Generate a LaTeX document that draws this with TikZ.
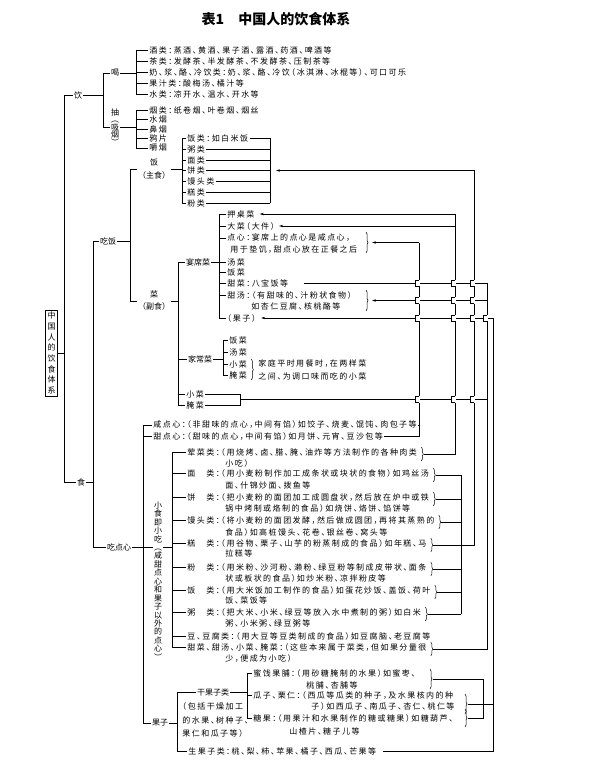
\documentclass[tikz,border=0pt]{standalone}
\usepackage{fontspec}
\newfontfamily\cjk[LetterSpace=18,RawFeature=+halt]{Noto Sans CJK SC}
\newfontfamily\cjkp{Noto Sans CJK SC}
\usetikzlibrary{calc,arrows.meta,decorations.pathreplacing}

\tikzset{
  txt/.style={anchor=west, inner sep=1.2pt, font=\cjk\fontsize{8}{9}\selectfont},
  lbl/.style={inner sep=1.2pt, font=\cjkp\fontsize{8}{9}\selectfont},
  vlbl/.style={align=center, inner sep=1pt, font=\cjkp\fontsize{8}{8.44}\selectfont},
  arr/.style={-{Stealth[length=4pt,width=2.4pt]}},
  brc/.style={decorate, decoration={brace, amplitude=2pt}},
}

% a horizontal line passing a vertical one
\newcommand\hop[1]{%
  \fill[white] ($#1+(-4.3,-3.3)$) rectangle ($#1+(0.6,3.3)$);
  \draw ($#1+(0,-3)$) -- ++(-4,0) -- ++(0,6) -- ++(4,0);}
% brace behind a text line, tip kept as a coordinate
\newcommand\brc[3]{%
  \draw[brc] ($(#1.east)+(3,-5)$) -- ($(#1.east)+(3,#2)$);
  \coordinate (#3) at ($(#1.east)+(5.5,{(#2-5)/2})$);}

\begin{document}
\begin{tikzpicture}[x=1pt, y=-1pt, line width=0.5pt]
\useasboundingbox (0,0) rectangle (598,778);

% columns
\coordinate (k0) at (64,0);
\coordinate (k1) at (93,0);
\coordinate (k2) at (103,0);
\coordinate (k3) at (130,0);
\coordinate (k4) at (136,0);
\coordinate (k5) at (143,0);
\coordinate (k6) at (172,0);
\coordinate (k7) at (177,0);
\coordinate (k8) at (178,0);
\coordinate (k9) at (182,0);
\coordinate (k10) at (219,0);
\coordinate (k11) at (223,0);
\coordinate (k12) at (240,0);
\coordinate (k13) at (247,0);
\coordinate (k14) at (270,0);
\coordinate (r1) at (419,0);
\coordinate (r2) at (455,0);
\coordinate (r3b) at (461,0);
\coordinate (r3) at (474,0);
\coordinate (r5b) at (483,0);
\coordinate (r4) at (487,0);
\coordinate (r5) at (493,0);

% title
\node[font=\cjkp\bfseries\fontsize{14}{16}\selectfont] (title) at (276,19) {表1\quad 中国人的饮食体系};

% root
\node[vlbl, draw, font=\cjkp\fontsize{8}{10.7}\selectfont, inner xsep=2.2pt, inner ysep=2pt] (root) at (51.5,353) {中\\国\\人\\的\\饮\\食\\体\\系};
\node[lbl] (yin) at (78,95) {饮};
\node[lbl] (shi) at (81,482) {食};

% drink
\node[lbl] (he) at (115,73) {喝};
\node[vlbl, font=\cjkp\fontsize{8}{7.5}\selectfont] (chou) at (115,127) {抽\\︵\\吸\\烟\\︶};
\node[txt] (jiu) at (148,50) {酒类：蒸酒、黄酒、果子酒、露酒、药酒、啤酒等};
\node[txt] (cha) at (148,61) {茶类：发酵茶、半发酵茶、不发酵茶、压制茶等};
\node[txt] (nai) at (148,72) {奶、浆、酪、冷饮类：奶、浆、酪、冷饮（冰淇淋、冰棍等）、可口可乐};
\node[txt] (guozhi) at (148,83) {果汁类：酸梅汤、橘汁等};
\node[txt] (shui) at (148,94) {水类：凉开水、温水、开水等};
\node[txt] (yan) at (148,110) {烟类：纸卷烟、叶卷烟、烟丝};
\node[txt] (shuiyan) at (148,119.5) {水烟};
\node[txt] (biyan) at (148,129) {鼻烟};
\node[txt] (yapian) at (148,138.5) {鸦片};
\node[txt] (jiaoyan) at (148,148) {嚼烟};

% staple food
\node[lbl] (chifan) at (108,241) {吃饭};
\node[lbl, align=center, font=\cjkp\fontsize{8}{13}\selectfont] (zhushi) at (154,169) {饭\\（主食）};
\node[txt] (fanlei) at (186,138) {饭类：如白米饭};
\node[txt] (zhoulei) at (186,149) {粥类};
\node[txt] (mianlei) at (186,160) {面类};
\node[txt] (binglei) at (186,170.5) {饼类};
\node[txt] (mantoulei) at (186,181) {馒头类};
\node[txt] (gaolei) at (186,192) {糕类};
\node[txt] (fenlei) at (186,203) {粉类};

% dishes
\node[lbl, align=center, font=\cjkp\fontsize{8}{12}\selectfont] (fushi) at (154,301) {菜\\（副食）};
\node[lbl] (yanxi) at (198,262) {宴席菜};
\node[txt] (yazhuo) at (226,214) {押桌菜};
\node[txt] (dacai) at (226,226) {大菜（大件）};
\node[txt] (dianxin) at (226,238) {点心：宴席上的点心是咸点心，};
\node[txt] (dianxinb) at (229,250) {用于垫饥，甜点心放在正餐之后};
\node[txt] (tangcai) at (226,262) {汤菜};
\node[txt] (fancai) at (226,272) {饭菜};
\node[txt] (tiancai) at (226,283) {甜菜：八宝饭等};
\node[txt] (tiantang) at (226,295) {甜汤：（有甜味的、汁粉状食物）};
\node[txt] (tiantangb) at (250,306) {如杏仁豆腐、核桃酪等};
\node[txt] (yxguo) at (226,318) {（果子）};

\node[lbl] (jiachang) at (200,359) {家常菜};
\node[txt] (jfan) at (228,340) {饭菜};
\node[txt] (jtang) at (228,352) {汤菜};
\node[txt] (jxiao) at (228,364) {小菜};
\node[txt] (jyan) at (228,375) {腌菜};
\node[txt] (jnote) at (257,364) {家庭平时用餐时，在两样菜};
\node[txt] (jnoteb) at (257,376) {之间、为调口味而吃的小菜};
\node[txt] (xiaocai) at (185,394) {小菜};
\node[txt] (yancai) at (185,405) {腌菜};

% snacks
\node[lbl] (chidx) at (119,547) {吃点心};
\node[txt] (xian) at (152,425) {咸点心：（非甜味的点心，中间有馅）如饺子、烧麦、馄饨、肉包子等};
\node[txt] (tian) at (152,436) {甜点心：（甜味的点心，中间有馅）如月饼、元宵、豆沙包等};
\node[vlbl] (xiaoshi) at (158,581) {小\\食\\即\\小\\吃\\︵\\咸\\甜\\点\\心\\和\\果\\子\\以\\外\\的\\点\\心\\︶};
\node[txt] (hun) at (186,452) {荤菜类：（用烧烤、卤、腊、腌、油炸等方法制作的各种肉类};
\node[txt] (hunb) at (224,463) {小吃）};
\node[txt] (mian) at (186,473) {面　类：（用小麦粉制作加工成条状或块状的食物）如鸡丝汤};
\node[txt] (mianb) at (224,485) {面、什锦炒面、拨鱼等};
\node[txt] (bing) at (186,497) {饼　类：（把小麦粉的面团加工成圆盘状，然后放在炉中或铁};
\node[txt] (bingb) at (224,508) {锅中烤制或烙制的食品）如烧饼、烙饼、馅饼等};
\node[txt] (mant) at (186,520) {馒头类：（将小麦粉的面团发酵，然后做成圆团，再将其蒸熟的};
\node[txt] (mantb) at (224,532) {食品）如高桩馒头、花卷、银丝卷、窝头等};
\node[txt] (gao) at (186,543) {糕　类：（用谷物、栗子、山芋的粉蒸制成的食品）如年糕、马};
\node[txt] (gaob) at (224,553) {拉糕等};
\node[txt] (fen) at (186,567) {粉　类：（用米粉、沙河粉、濑粉、绿豆粉等制成皮带状、面条};
\node[txt] (fenb) at (224,578) {状或板状的食品）如炒米粉、凉拌粉皮等};
\node[txt] (fan) at (186,590) {饭　类：（用大米饭加工制作的食品）如蛋花炒饭、盖饭、荷叶};
\node[txt] (fanb) at (224,600) {饭、菜饭等};
\node[txt] (zhou) at (186,612) {粥　类：（把大米、小米、绿豆等放入水中煮制的粥）如白米};
\node[txt] (zhoub) at (224,623) {粥、小米粥、绿豆粥等};
\node[txt] (dou) at (186,636) {豆、豆腐类：（用大豆等豆类制成的食品）如豆腐脑、老豆腐等};
\node[txt] (tcx) at (186,647) {甜菜、甜汤、小菜、腌菜：（这些本来属于菜类，但如果分量很};
\node[txt] (tcxb) at (224,658) {少，便成为小吃）};

% fruit
\node[lbl] (gz) at (160,723) {果子};
\node[lbl] (ganguo) at (213,692) {干果子类};
\node[txt] (gg) at (181,706) {（包括干燥加工};
\node[txt] (ggb) at (181,720) {的水果、树种子、};
\node[txt] (ggc) at (181,733) {果仁和瓜子等）};
\node[txt] (mj) at (252,673) {蜜饯果脯：（用砂糖腌制的水果）如蜜枣、};
\node[txt] (mjb) at (305,685) {桃脯、杏脯等};
\node[txt] (gzr) at (252,695) {瓜子、栗仁：（西瓜等瓜类的种子，及水果核内的种};
\node[txt] (gzrb) at (310,706) {子）如西瓜子、南瓜子、杏仁、桃仁等};
\node[txt] (tg) at (252,718) {糖果：（用果汁和水果制作的糖或糖果）如糖葫芦、};
\node[txt] (tgb) at (288,731) {山楂片、糖子儿等};
\node[txt] (sg) at (187,751) {生果子类：桃、梨、柿、苹果、橘子、西瓜、芒果等};

% tree: drink
\draw (root.east) -- (root.east -| k0);
\draw (yin.west) -- (yin.west -| k0) -- (shi.west -| k0) -- (shi.west);
\draw (yin.east) -- (yin.east -| k2);
\draw (he.west) -- (he.west -| k2) -- (chou.west -| k2) -- (chou.west);
\draw (he.east) -- (he.east -| k4);
\draw (chou.east) -- (chou.east -| k4);
\draw (jiu.west -| k4) -- (shui.west -| k4);
\draw (yan.west -| k4) -- (jiaoyan.west -| k4);
\foreach \n in {jiu,cha,nai,guozhi,shui,yan,shuiyan,biyan,yapian,jiaoyan}
  \draw (\n.west) -- (\n.west -| k4);

% tree: eat
\draw (shi.east) -- (shi.east -| k1);
\draw (chifan.west) -- (chifan.west -| k1) -- (chidx.west -| k1) -- (chidx.west);
\draw (chifan.east) -- (chifan.east -| k3);
\draw (zhushi.west) -- (zhushi.west -| k3) -- (fushi.west -| k3) -- (fushi.west);
\draw (zhushi.east) -- (zhushi.east -| k9);
\draw (fanlei.west -| k9) -- (fenlei.west -| k9);
\draw (fanlei.east -| k14) -- (fenlei.east -| k14);
\foreach \n in {fanlei,zhoulei,mianlei,binglei,mantoulei,gaolei,fenlei} {
  \draw (\n.west) -- (\n.west -| k9);
  \draw (\n.east) -- (\n.east -| k14);
}

\draw (fushi.east) -- (fushi.east -| k8);
\draw (yanxi.west -| k8) -- (yancai.west -| k8);
\foreach \n in {yanxi,jiachang,xiaocai,yancai}
  \draw (\n.west) -- (\n.west -| k8);
\draw (yanxi.east) -- (yanxi.east -| k10);
\draw (yazhuo.west -| k10) -- (yxguo.west -| k10);
\foreach \n in {yazhuo,dacai,dianxin,tangcai,fancai,tiancai,tiantang,yxguo}
  \draw (\n.west) -- (\n.west -| k10);
\draw (jiachang.east) -- (jiachang.east -| k11);
\draw (jfan.west -| k11) -- (jyan.west -| k11);
\foreach \n in {jfan,jtang,jxiao,jyan}
  \draw (\n.west) -- (\n.west -| k11);
\draw[brc] ($(jxiao.east)+(3,-5)$) -- ($(jyan.east)+(3,5)$);
\draw (xiaocai.east) -- (xiaocai.east -| k12) -- (yancai.east -| k12) -- (yancai.east);
\coordinate (xy) at ($(xiaocai.east -| k12)!0.5!(yancai.east -| k12)$);

\draw (chidx.east) -- (chidx.east -| xiaoshi.west);
\draw (chidx.east -| xiaoshi.east) -- (chidx.east -| k6);
\draw (xian.west -| k5) -- (gz.west -| k5);
\foreach \n in {xian,tian,gz}
  \draw (\n.west) -- (\n.west -| k5);
\draw (hun.west -| k6) -- (tcx.west -| k6);
\foreach \n in {hun,mian,bing,mant,gao,fen,fan,zhou,dou,tcx}
  \draw (\n.west) -- (\n.west -| k6);

\draw (gz.east) -- (gz.east -| k7);
\draw (ganguo.west) -- (ganguo.west -| k7) -- (sg.west -| k7) -- (sg.west);
\draw (ganguo.east) -- (ganguo.east -| k13);
\draw (mj.west -| k13) -- (tg.west -| k13);
\foreach \n in {mj,gzr,tg}
  \draw (\n.west) -- (\n.west -| k13);

% braces
\draw[brc] (366,232) -- (366,253);
\coordinate (dxT) at (369,242.5);
\draw[brc] (366,290) -- (366,311);
\coordinate (ttT) at (369,300.5);
\brc{hun}{9}{hunT}
\brc{mian}{9}{mianT}
\brc{bing}{9}{bingT}
\brc{mant}{9}{mantT}
\brc{gao}{9}{gaoT}
\brc{fen}{9}{fenT}
\brc{fan}{9}{fanT}
\brc{zhou}{9}{zhouT}
\brc{tcx}{9}{tcxT}
\draw[brc] (430,669) -- (430,689);
\coordinate (mjT) at (432.5,679);
\draw[brc] (465,694) -- (465,714);
\coordinate (gzrT) at (467.5,704);
\draw[brc] (465,709) -- (465,727);
\coordinate (tgT) at (467.5,718);

% cross links on the right
\draw (xian.east) -- (xian.east -| r1);
\draw (tian.east) -- (tian.east -| r1) -- (dxT -| r1);
\draw[arr] (dxT -| r1) -- ($(dxT)+(3,0)$);

\draw[arr] (yazhuo.east -| r2) -- ($(yazhuo.east)+(4,0)$);
\draw[arr] (dacai.east -| r2) -- ($(dacai.east)+(3,0)$);
\draw (yazhuo.east -| r2) -- (hunT -| r2) -- (hunT);

\draw[arr] (binglei.east -| r3) -- ($(binglei.east -| k14)+(6,0)$);
\draw (binglei.east -| r3) -- (gaoT -| r3) -- (gaoT);
\draw (mianT -| r3b) -- (zhouT -| r3b);
\foreach \t in {mianT,bingT,mantT,fenT,fanT,zhouT}
  \draw (\t) -- (\t -| r3b);

\draw ($(tiancai.east)+(14,0)$) -- (tiancai.east -| r4) -- (tcxT -| r4) -- (tcxT);
\draw[arr] (ttT -| r4) -- ($(ttT)+(3,0)$);
\draw (xy) -- (xy -| r4);

\draw[arr] (yxguo.east -| r5) -- ($(yxguo.east)+(4,0)$);
\draw (yxguo.east -| r5) -- (sg.east -| r5) -- ($(sg.east)+(5,0)$);
\draw (gzrT) -- (gzrT -| r5);
\draw (mjT) -- (mjT -| r5b) -- (tgT -| r5b) -- (tgT);

% line crossings
\foreach \c in {r1,r2,r3} {
  \hop{(\c |- tiancai.east)}
  \hop{(\c |- ttT)}
  \hop{(\c |- xy)}
}
\foreach \c in {r1,r2,r3,r4} {
  \hop{(\c |- yxguo.east)}
}
\end{tikzpicture}
\end{document}
